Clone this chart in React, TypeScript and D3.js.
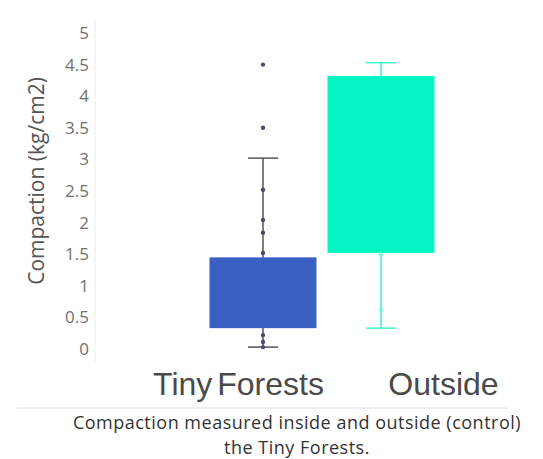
import React from 'react';
import * as d3 from 'd3';

// chart values
const categories = ['Tiny Forests', 'Outside'];
const q1 = [0.33, 1.52];
const q3 = [1.45, 4.32];
const whiskerLow = [0.03, 0.33];
const whiskerHigh = [3.02, 4.53];
const tinyPoints = [4.5, 3.5, 2.52, 2.04, 1.84, 1.52, 0.22, 0.11, 0.03];
const outsidePoints = [1.5, 0.62];
const yTicks = [0, 0.5, 1, 1.5, 2, 2.5, 3, 3.5, 4, 4.5, 5];

const boxColors = ['#3b60c4', '#05f5c4'];
const whiskerColors = ['#555555', '#3ff2c8'];
const pointColors = ['#4a4a6a', '#7ff5d8'];

const W = 543;
const H = 459;

export default function App() {
  const y = d3.scaleLinear().domain([0, 5]).range([349, 33]);
  const x = d3.scaleBand().domain(categories).range([209.5, 434.5]).paddingInner(0.093).paddingOuter(0);
  const labelX = d3.scalePoint().domain(categories).range([238.5, 443.5]);
  const bw = x.bandwidth();
  const points = [tinyPoints, outsidePoints];

  return (
    <svg width={W} height={H} style={{ position: 'absolute', left: 0, top: 0, background: '#fff' }}
      fontFamily="'Open Sans', sans-serif">
      {/* y axis line */}
      <line x1={95} x2={95} y1={20} y2={362} stroke="#ececec" />
      {yTicks.map(t => (
        <text key={t} x={89} y={y(t)} dy="0.35em" textAnchor="end" fontSize={17} fill="#707070">
          {t}
        </text>
      ))}
      <text transform={`translate(37, 181) rotate(-90)`} textAnchor="middle" dy="0.35em"
        fontSize={21} fill="#555">
        Compaction (kg/cm2)
      </text>

      {categories.map((c, i) => {
        const cx = (x(c) as number) + bw / 2;
        return (
          <g key={c}>
            <line x1={cx} x2={cx} y1={y(whiskerHigh[i])} y2={y(whiskerLow[i])}
              stroke={whiskerColors[i]} strokeWidth={1.5} />
            <line x1={cx - 15} x2={cx + 15} y1={y(whiskerHigh[i])} y2={y(whiskerHigh[i])}
              stroke={whiskerColors[i]} strokeWidth={1.5} />
            <line x1={cx - 15} x2={cx + 15} y1={y(whiskerLow[i])} y2={y(whiskerLow[i])}
              stroke={whiskerColors[i]} strokeWidth={1.5} />
            <rect x={x(c)} y={y(q3[i])} width={bw} height={y(q1[i]) - y(q3[i])}
              fill={boxColors[i]} />
            {points[i].map((p, j) => (
              <circle key={j} cx={cx} cy={y(p)} r={2.2} fill={pointColors[i]} />
            ))}
          </g>
        );
      })}

      {categories.map(c => (
        <text key={c} x={labelX(c)} y={395} textAnchor="middle" fontSize={32}
          fontFamily="'Liberation Sans', Arial, sans-serif" fill="#4a4a4a" wordSpacing={-4}>
          {c}
        </text>
      ))}

      <line x1={17} x2={508} y1={408} y2={408} stroke="#dedede" />
      <text x={297} y={429} textAnchor="middle" fontSize={18} letterSpacing={0.5} fill="#333">
        Compaction measured inside and outside (control)
      </text>
      <text x={297} y={454} textAnchor="middle" fontSize={18} letterSpacing={0.5} fill="#333">
        the Tiny Forests.
      </text>
    </svg>
  );
}
